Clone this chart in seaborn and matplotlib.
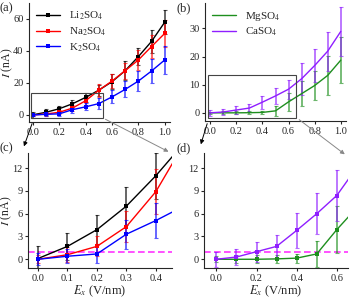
import numpy as np
import pandas as pd
import matplotlib
matplotlib.use("Agg")
import matplotlib.pyplot as plt
import seaborn as sns
from matplotlib.patches import Rectangle, FancyArrowPatch

# data
E = [0.0, 0.1, 0.2, 0.3, 0.4, 0.5, 0.6, 0.7, 0.8, 0.9, 1.0]

li = [0.1, 1.7, 3.9, 7.0, 11.0, 15.5, 20.8, 27.7, 36.5, 46.0, 58.0]
li_err = [1.7, 1.8, 1.9, 2.5, 3.0, 3.5, 4.5, 5.8, 5.5, 7.0, 7.5]
na = [0.0, 0.6, 1.7, 4.3, 8.9, 15.5, 21.2, 27.7, 34.4, 42.8, 51.0]
na_err = [0.5, 1.0, 1.3, 2.0, 3.0, 4.0, 4.5, 5.0, 6.0, 7.0, 8.5]
k = [0.0, 0.4, 0.7, 3.3, 5.1, 7.1, 11.3, 16.0, 21.2, 27.5, 34.4]
k_err = [0.8, 0.9, 1.2, 1.9, 2.3, 3.5, 4.0, 5.0, 6.0, 7.5, 8.5]

mg = [0.0, 0.0, 0.0, 0.05, 0.15, 0.7, 3.9, 6.8, 9.7, 13.3, 18.7]
mg_err = [0.4, 0.5, 0.5, 0.5, 0.6, 1.7, 3.1, 4.5, 5.3, 6.8, 8.2]
ca = [0.0, 0.3, 1.0, 1.7, 3.8, 6.0, 8.4, 12.1, 16.8, 21.9, 28.9]
ca_err = [1.0, 1.1, 1.3, 1.5, 2.3, 2.7, 3.4, 5.6, 5.7, 6.9, 8.8]

mono_names = ["Li$_2$SO$_4$", "Na$_2$SO$_4$", "K$_2$SO$_4$"]
di_names = ["MgSO$_4$", "CaSO$_4$"]
mono_colors = ["#000000", "#FF0000", "#0000FF"]
di_colors = ["#1E8F1E", "#8F1EFF"]

sns.set_style("ticks")
plt.rcParams["font.family"] = ["Liberation Serif", "DejaVu Serif"]
plt.rcParams["mathtext.fontset"] = "stix"
plt.rcParams["font.size"] = 8

W, H = 350, 298
fig = plt.figure(figsize=(W / 100, H / 100), dpi=100)


def box(l, t, r, b):
    return [l / W, 1 - b / H, (r - l) / W, (b - t) / H]


ax_a = fig.add_axes(box(29, 3, 170, 122))
ax_b = fig.add_axes(box(205, 3, 346, 121))
ax_c = fig.add_axes(box(28, 153, 172, 268))
ax_d = fig.add_axes(box(204, 153, 348, 268))

mono = pd.DataFrame({"E": E * 3,
                     "I": li + na + k,
                     "err": li_err + na_err + k_err,
                     "salt": sum([[n] * len(E) for n in mono_names], [])})
di = pd.DataFrame({"E": E * 2,
                   "I": mg + ca,
                   "err": mg_err + ca_err,
                   "salt": sum([[n] * len(E) for n in di_names], [])})


def draw(ax, df, names, cols, legend, marker):
    for n, c in zip(names, cols):
        d = df[df["salt"] == n]
        ax.errorbar(d["E"], d["I"], yerr=d["err"], fmt="none", ecolor=c,
                    alpha=0.65, elinewidth=1.3, capsize=1.5, capthick=0.8, zorder=2)
    sns.lineplot(data=df, x="E", y="I", hue="salt", palette=dict(zip(names, cols)),
                 marker="s" if marker else None, markersize=3, markeredgewidth=0,
                 linewidth=1.0, ax=ax, legend=legend, zorder=3)


draw(ax_a, mono, mono_names, mono_colors, True, True)
draw(ax_c, mono, mono_names, mono_colors, False, True)
draw(ax_b, di, di_names, di_colors, True, False)
draw(ax_d, di, di_names, di_colors, False, True)

ax_a.legend(title=None, frameon=False, loc="upper left", fontsize=8,
            handlelength=2.2, labelspacing=0.3, borderaxespad=0.2)
ax_b.legend(title=None, frameon=False, loc="upper left", fontsize=8,
            handlelength=2.2, labelspacing=0.3, borderaxespad=0.2)

ax_a.set_xlim(-0.03, 1.04)
ax_a.set_ylim(-4.4, 70)
ax_a.set_yticks([0, 20, 40, 60])
ax_b.set_xlim(-0.04, 1.04)
ax_b.set_ylim(-2.9, 39)
ax_b.set_yticks([0, 10, 20, 30])
for ax in (ax_a, ax_b):
    ax.set_xticks([0.0, 0.2, 0.4, 0.6, 0.8, 1.0])
    ax.set_xlabel("")

ax_c.set_xlim(-0.034, 0.455)
ax_c.set_xticks([0.0, 0.1, 0.2, 0.3, 0.4])
ax_d.set_xlim(-0.062, 0.656)
ax_d.set_xticks([0.0, 0.2, 0.4, 0.6])
for ax in (ax_c, ax_d):
    ax.set_ylim(-1.15, 14)
    ax.set_yticks([0, 3, 6, 9, 12])
    ax.axhline(1, color="#FF33FF", ls=(0, (4, 2)), lw=1.2, zorder=1)
    ax.set_xlabel("$E_x$ (V/nm)", fontsize=9, labelpad=1)

for ax in (ax_a, ax_c):
    ax.set_ylabel("$I$ (nA)", fontsize=8.5)
ax_a.yaxis.set_label_coords(-0.102, 0.5)
ax_c.yaxis.set_label_coords(-0.095, 0.5)
for ax in (ax_b, ax_d):
    ax.set_ylabel("")

for ax in (ax_a, ax_b, ax_c, ax_d):
    sns.despine(ax=ax)
    ax.tick_params(length=2.5, width=0.8, pad=1.5, labelsize=7.5)
    ax.xaxis.set_major_formatter(matplotlib.ticker.FormatStrFormatter("%.1f"))
    for s in ("left", "bottom"):
        ax.spines[s].set_linewidth(0.8)

# zoom rectangles
ax_a.add_patch(Rectangle((-0.015, -2), 0.545, 15.5, fill=False,
                         ec="#444444", lw=0.8, zorder=4))
ax_b.add_patch(Rectangle((-0.015, -1.8), 0.675, 15.4, fill=False,
                         ec="#444444", lw=0.8, zorder=4))

# arrows in pixel positions
def arrow(x0, y0, x1, y1, col):
    p = FancyArrowPatch((x0 / W, 1 - y0 / H), (x1 / W, 1 - y1 / H),
                        transform=fig.transFigure, arrowstyle="-|>",
                        mutation_scale=6, color=col, lw=0.7)
    fig.add_artist(p)


arrow(33, 121, 23, 149, "black")
arrow(103, 118, 171, 153, "#888888")
arrow(208, 121, 200, 147, "black")
arrow(297, 118, 347, 156, "#888888")

for lbl, x, y in [("(a)", 0, 2), ("(b)", 177, 2), ("(c)", 0, 142), ("(d)", 177, 142)]:
    fig.text(x / W, 1 - y / H, lbl, fontsize=9, va="top", ha="left")

fig.savefig("out.png", dpi=100)
